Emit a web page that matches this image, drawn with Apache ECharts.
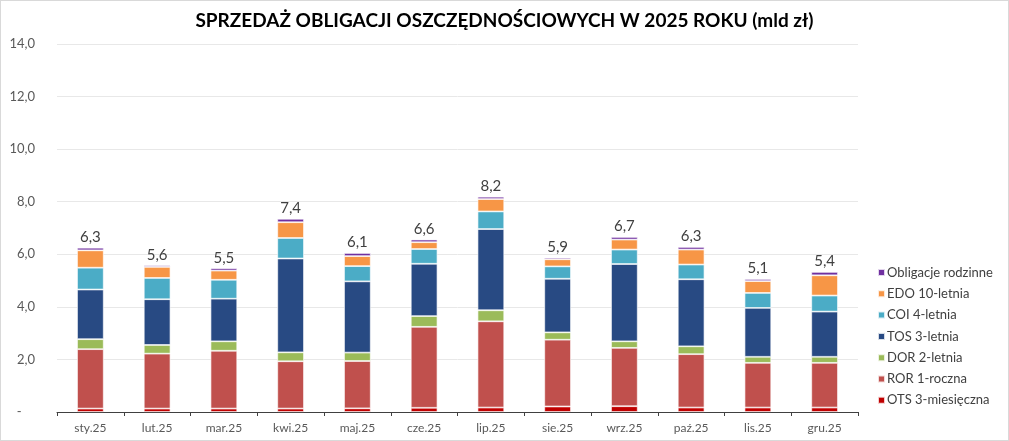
<!DOCTYPE html>
<html>
<head>
<meta charset="utf-8">
<script src="https://cdn.jsdelivr.net/npm/echarts@6/dist/echarts.min.js"></script>
<style>
html,body{margin:0;padding:0;background:#fff;}
#wrap{position:relative;width:1009px;height:441px;}
#c{width:1009px;height:441px;}
#frame{position:absolute;left:0;top:0;width:1009px;height:441px;box-sizing:border-box;border:1px solid #d9d9d9;pointer-events:none;}
</style>
</head>
<body>
<div id="wrap"><div id="c"></div><div id="frame"></div></div>
<script>
var categories = ['sty.25','lut.25','mar.25','kwi.25','maj.25','cze.25','lip.25','sie.25','wrz.25','paź.25','lis.25','gru.25'];
var ots = [0.13,0.13,0.13,0.13,0.14,0.16,0.17,0.21,0.22,0.17,0.17,0.17];
var ror = [2.26,2.09,2.20,1.80,1.80,3.08,3.28,2.54,2.22,2.03,1.70,1.70];
var dor = [0.38,0.33,0.36,0.34,0.32,0.41,0.42,0.28,0.25,0.30,0.23,0.23];
var tos = [1.89,1.74,1.62,3.57,2.71,1.99,3.09,2.04,2.94,2.55,1.86,1.72];
var coi = [0.83,0.81,0.72,0.78,0.58,0.56,0.67,0.47,0.55,0.56,0.57,0.61];
var edo = [0.66,0.42,0.35,0.60,0.38,0.26,0.47,0.27,0.38,0.57,0.45,0.77];
var rodzinne = [0.10,0.06,0.09,0.13,0.12,0.10,0.09,0.06,0.10,0.10,0.08,0.13];
var totals = [6.3,5.6,5.5,7.4,6.1,6.6,8.2,5.9,6.7,6.3,5.1,5.4];
var yTicks = [0,2,4,6,8,10,12,14];

var FONT = 'Lato, "Noto Sans", sans-serif';
function fmt(v){ return v.toFixed(1).replace('.', ','); }

var seriesDefs = [
  {name:'OTS 3-miesięczna', data:ots, color:'#C00000'},
  {name:'ROR 1-roczna', data:ror, color:'#C0504D'},
  {name:'DOR 2-letnia', data:dor, color:'#9BBB59'},
  {name:'TOS 3-letnia', data:tos, color:'#284A83'},
  {name:'COI 4-letnia', data:coi, color:'#4BACC6'},
  {name:'EDO 10-letnia', data:edo, color:'#F79646'},
  {name:'Obligacje rodzinne', data:rodzinne, color:'#7030A0'}
];

var series = seriesDefs.map(function(s, i){
  var o = {
    name: s.name, type:'bar', stack:'total', data:s.data, barWidth:'40%',
    itemStyle:{color:s.color, borderColor:'rgba(255,255,255,0.8)', borderWidth:0.8},
    emphasis:{disabled:true}
  };
  if (i === seriesDefs.length - 1) {
    o.label = {
      show:true, position:'top', distance:3,
      fontFamily:FONT, fontSize:15, color:'#404040',
      formatter:function(p){ return fmt(totals[p.dataIndex]); }
    };
  }
  return o;
});

var chart = echarts.init(document.getElementById('c'), null, {renderer:'canvas'});
chart.setOption({
  animation:false,
  title:{
    text:'SPRZEDAŻ OBLIGACJI OSZCZĘDNOŚCIOWYCH W 2025 ROKU (mld zł)',
    left:'center', top:6,
    textStyle:{fontFamily:FONT, fontWeight:'bold', fontSize:19, color:'#000'}
  },
  grid:{left:57, right:151, top:44, bottom:29, containLabel:false},
  legend:{
    orient:'vertical', left:872, top:261,
    data:seriesDefs.map(function(s){return s.name;}).reverse(),
    icon:'rect', itemWidth:7, itemHeight:7, itemGap:8.3,
    textStyle:{fontFamily:FONT, fontSize:13, color:'#404040', padding:[0,0,0,-3]},
    selectedMode:false
  },
  xAxis:{
    type:'category', data:categories, boundaryGap:true,
    axisLine:{lineStyle:{color:'#404040', width:1}},
    axisTick:{show:true, length:4, inside:false, lineStyle:{color:'#404040'}},
    axisLabel:{fontFamily:FONT, fontSize:12, color:'#595959', margin:10}
  },
  yAxis:{
    type:'value', min:yTicks[0], max:yTicks[yTicks.length-1], interval:2,
    axisLine:{show:false}, axisTick:{show:false},
    splitLine:{lineStyle:{color:'#e8e8e8', width:1}},
    axisLabel:{fontFamily:FONT, fontSize:13, color:'#595959', margin:22,
      formatter:function(v){ return v === 0 ? '-    ' : fmt(v); }}
  },
  series:series
});
</script>
</body>
</html>
